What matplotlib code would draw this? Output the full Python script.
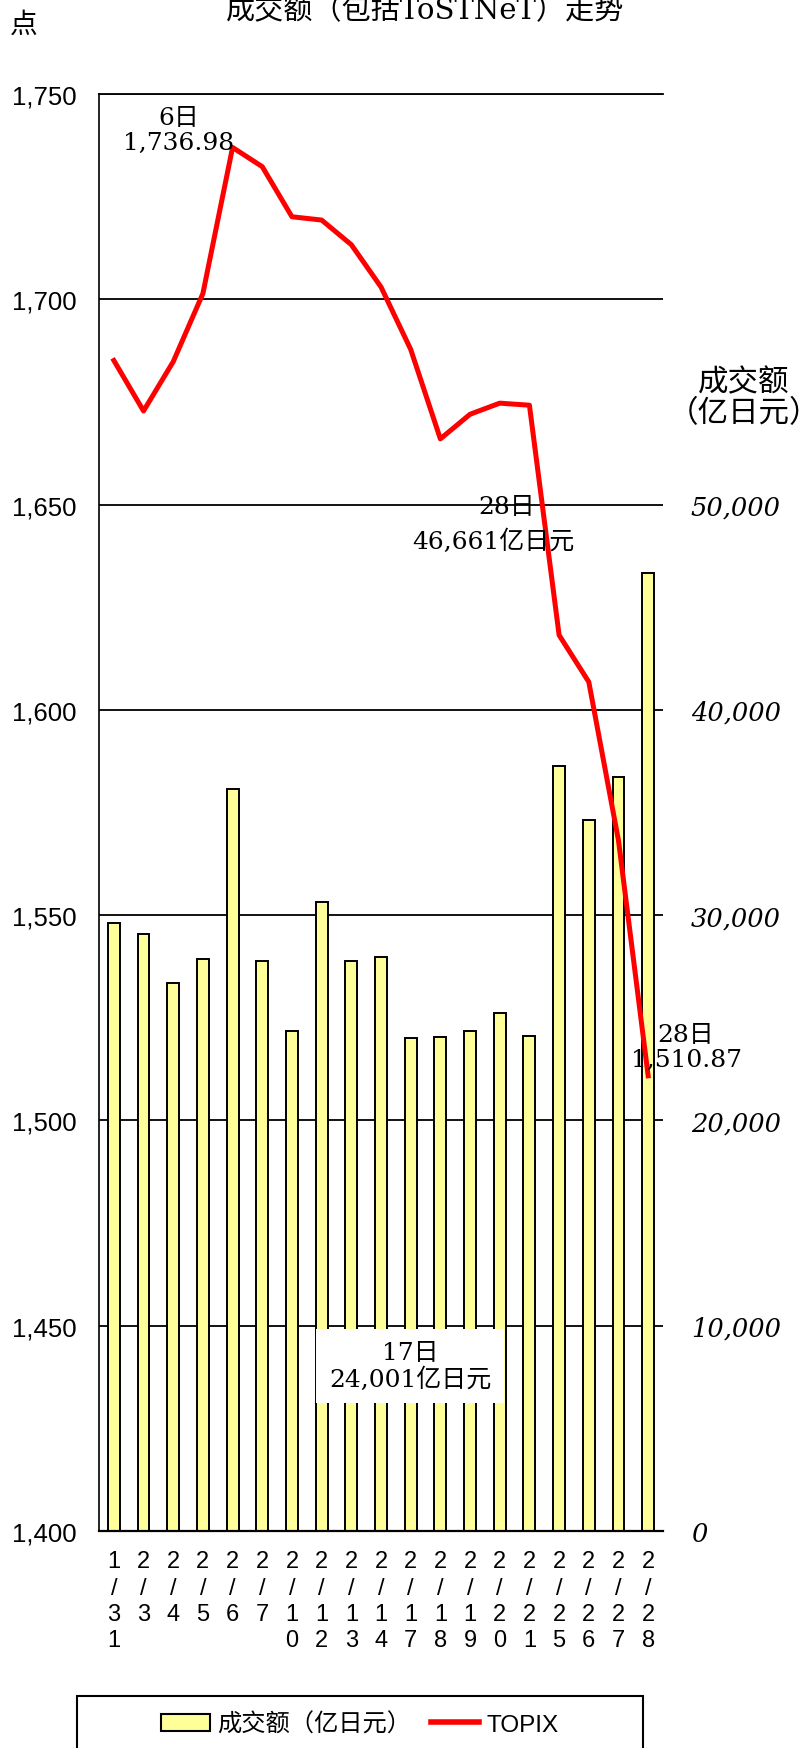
import matplotlib
matplotlib.use('Agg')
import matplotlib.pyplot as plt
from matplotlib.patches import Rectangle, Patch
from matplotlib.lines import Line2D
from matplotlib.font_manager import FontProperties
import numpy as np

plt.rcParams['font.family'] = ['DejaVu Sans', 'Noto Sans CJK SC']

# ---------------- data ----------------
dates = ['1/31', '2/3', '2/4', '2/5', '2/6', '2/7', '2/10', '2/12', '2/13', '2/14',
         '2/17', '2/18', '2/19', '2/20', '2/21', '2/25', '2/26', '2/27', '2/28']
volume = [29610, 29080, 26710, 27850, 36140, 27750, 24370, 30640, 27780, 27940,
          24001, 24050, 24350, 25220, 24130, 37260, 34630, 36730, 46661]
topix = [1685.1, 1672.8, 1684.8, 1701.4, 1736.98, 1732.3, 1720.1, 1719.3, 1713.3, 1703.0,
         1687.8, 1666.0, 1672.0, 1674.7, 1674.2, 1618.2, 1606.8, 1568.2, 1510.87]
topix_ticks = [1400, 1450, 1500, 1550, 1600, 1650, 1700, 1750]
topix_tick_labels = ['1,400', '1,450', '1,500', '1,550', '1,600', '1,650', '1,700', '1,750']
volume_ticks = [0, 10000, 20000, 30000, 40000, 50000, 60000, 70000]
volume_tick_labels = ['0', '10,000', '20,000', '30,000', '40,000', '50,000', '', '']

title = '成交额（包括ToSTNeT）走势'
left_unit = '点'
right_unit = '成交额\n（亿日元）'
legend_bar = '成交额（亿日元）'
legend_line = 'TOPIX'
ann_peak = '6日\n1,736.98'
ann_last = '28日\n1,510.87'
ann_vol_max_day = '28日'
ann_vol_max = '46,661亿日元'
ann_vol_min = '17日\n24,001亿日元'

# ---------------- layout ----------------
W, H = 811, 1749
fig = plt.figure(figsize=(W / 100, H / 100), dpi=100)


def fx(px):
    return px / W


def fy(py):
    return 1 - py / H


serif_cjk = ['DejaVu Serif', 'Noto Sans CJK SC']
sans_cjk = ['Liberation Sans', 'Noto Sans CJK SC']

ax = fig.add_axes([fx(99), fy(1532), 564 / W, 1437 / H])
x = np.arange(len(dates))
ax.bar(x, volume, width=0.4, color='#FFFF99', edgecolor='black', linewidth=1.4, zorder=2)
ax.set_xlim(-0.5, len(dates) - 0.5)
ax.set_ylim(0, 70000)
ax.grid(axis='y', color='black', linewidth=1.3)
ax.set_axisbelow(True)
ax.set_xticks(x)
ax.set_xticklabels(['\n'.join(d) for d in dates], fontsize=17, family='Liberation Sans',
                   linespacing=1.25)
ax.tick_params(axis='x', length=0, pad=14)
ax.spines['right'].set_visible(False)
ax.spines['left'].set_linewidth(1.2)
ax.spines['top'].set_linewidth(1.3)
ax.spines['bottom'].set_linewidth(1.6)

ax2 = ax.twinx()
ax2.plot(x, topix, color='#FF0000', linewidth=3.6, zorder=3)
ax2.set_ylim(1400, 1750)
ax2.yaxis.tick_left()
ax2.set_yticks(topix_ticks)
ax2.set_yticklabels(topix_tick_labels, family='Liberation Sans', fontsize=18.5)
ax2.tick_params(axis='y', length=0, pad=16)
for s in ax2.spines.values():
    s.set_visible(False)

# bar axis ticks on the right (after twinx, which resets them)
ax.yaxis.tick_right()
ax.set_yticks(volume_ticks)
ax.set_yticklabels(volume_tick_labels, family='DejaVu Serif', style='italic', fontsize=18.5)
ax.tick_params(axis='y', length=0, pad=20, left=False, labelleft=False,
               right=False, labelright=True)

# ---------------- texts ----------------
fig.text(fx(425), fy(18), title, ha='center', va='baseline', fontsize=21, family=serif_cjk)
fig.text(fx(24), fy(25), left_unit, ha='center', va='center', fontsize=20,
         family='Noto Sans CJK SC')
fig.text(fx(744), fy(398), right_unit, ha='center', va='center', fontsize=22,
         family='Noto Sans CJK SC', linespacing=1.0, multialignment='center')

fig.text(fx(179), fy(131), ann_peak, ha='center', va='center', fontsize=18,
         family=serif_cjk, multialignment='center', linespacing=1.1)
fig.text(fx(686), fy(1048), ann_last, ha='center', va='center', fontsize=18,
         family=serif_cjk, multialignment='center', linespacing=1.1)
fig.text(fx(507), fy(508), ann_vol_max_day, ha='center', va='center', fontsize=18,
         family=serif_cjk)
fig.text(fx(493), fy(542), ann_vol_max, ha='center', va='center', fontsize=18,
         family=serif_cjk)
fig.text(fx(410), fy(1367), ann_vol_min, ha='center', va='center', fontsize=18,
         family=serif_cjk, multialignment='center', linespacing=1.1,
         bbox=dict(boxstyle='square,pad=0.5', facecolor='white', edgecolor='none'))

# ---------------- legend ----------------
fig.add_artist(Rectangle((fx(77), fy(1765)), 566 / W, 68 / H, transform=fig.transFigure,
                         fill=False, edgecolor='black', linewidth=1.5))
handles = [Patch(facecolor='#FFFF99', edgecolor='black', linewidth=1.5, label=legend_bar),
           Line2D([], [], color='#FF0000', linewidth=4, label=legend_line)]
fig.legend(handles=handles, loc='center', bbox_to_anchor=(fx(360), fy(1725)), ncol=2,
           frameon=False, prop=FontProperties(family=sans_cjk, size=17.5),
           handlelength=2.0, handleheight=0.7, handletextpad=0.3, columnspacing=0.8)

fig.savefig('out.png', dpi=100)
